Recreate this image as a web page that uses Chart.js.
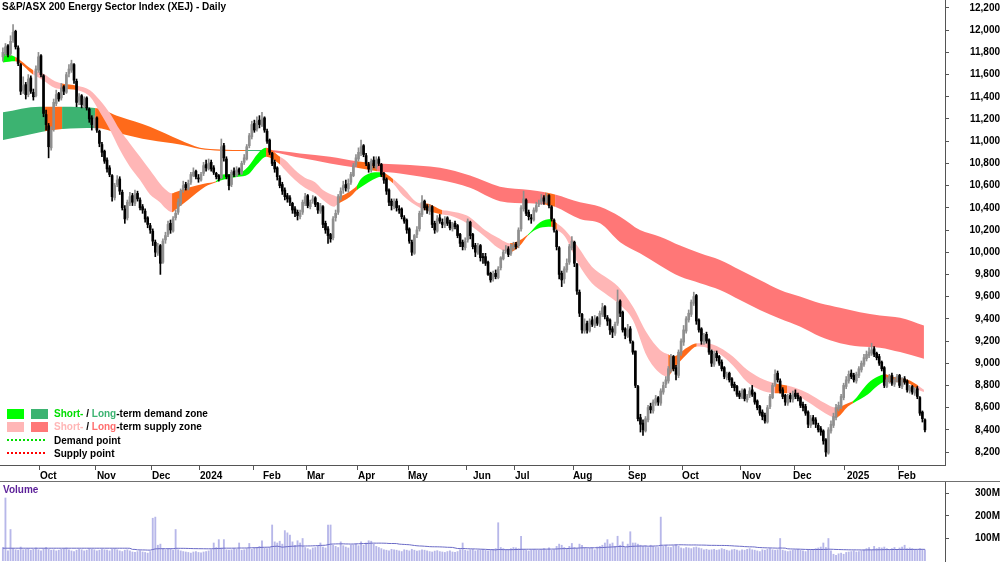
<!DOCTYPE html>
<html>
<head>
<meta charset="utf-8">
<script src="https://cdn.jsdelivr.net/npm/chart.js@4.4.1/dist/chart.umd.min.js"></script>
<style>
html, body { margin: 0; padding: 0; background: #fff; }
#wrap { position: relative; width: 1000px; height: 562px; overflow: hidden; font-family: "Liberation Sans", Arial, sans-serif; }
canvas { position: absolute; left: 0; }
#price { top: 0; }
#vol { top: 482px; }
#sep { position: absolute; left: 0; top: 481px; width: 1000px; height: 1px; background: #707070; }
#title { position: absolute; left: 2px; top: 1px; font-weight: bold; font-size: 10px; color: #000; }
#vlabel { position: absolute; left: 3px; top: 484px; font-weight: bold; font-size: 10px; color: #5b1f98; }
#legend { position: absolute; left: 7px; top: 407px; width: 220px; height: 56px; font-weight: bold; font-size: 10px; color: #000; }
.row { position: absolute; left: 0; height: 13px; width: 220px; white-space: nowrap; }
.box { position: absolute; top: 2px; width: 17px; height: 10px; }
.txt { position: absolute; left: 47px; top: 0; line-height: 13px; }
.dots { position: absolute; left: 0; top: 5px; width: 38px; height: 0; border-top: 2px dotted; }
</style>
</head>
<body>
<div id="wrap">
  <canvas id="price" width="1000" height="481"></canvas>
  <div id="sep"></div>
  <canvas id="vol" width="1000" height="80"></canvas>
  <div id="title">S&amp;P/ASX 200 Energy Sector Index (XEJ) - Daily</div>
  <div id="vlabel">Volume</div>
  <div id="legend">
    <div class="row" style="top:0">
      <span class="box" style="left:0;background:#00ff00"></span>
      <span class="box" style="left:24px;background:#3cb371"></span>
      <span class="txt"><span style="color:#00dd00">Short-</span> / <span style="color:#3cb371">Long</span>-term demand zone</span>
    </div>
    <div class="row" style="top:13px">
      <span class="box" style="left:0;background:#ffb6b6"></span>
      <span class="box" style="left:24px;background:#ff7777"></span>
      <span class="txt"><span style="color:#ffb6b6">Short-</span> / <span style="color:#ff6e6e">Long</span>-term supply zone</span>
    </div>
    <div class="row" style="top:27px">
      <span class="dots" style="border-color:#00dd00"></span>
      <span class="txt">Demand point</span>
    </div>
    <div class="row" style="top:40px">
      <span class="dots" style="border-color:#ff0000"></span>
      <span class="txt">Supply point</span>
    </div>
  </div>
</div>
<script>
// daily bars, 11 Sep 2023 .. 14 Feb 2025
const opens = [
  11760,11790,11860,11790,11910,11990,11840,11690,11460,11510,
  11420,11570,11440,11410,11640,11770,11590,11240,11140,10940,
  11110,11340,11430,11390,11490,11440,11610,11640,11690,11540,
  11360,11410,11320,11390,11290,11210,11140,11210,11090,10970,
  10910,10830,10760,10690,10490,10610,10660,10540,10390,10310,
  10440,10510,10440,10530,10470,10410,10370,10310,10240,10190,
  10090,9990,10060,9910,10110,10160,10260,10190,10310,10360,
  10440,10560,10610,10570,10630,10690,10730,10670,10650,10710,
  10790,10750,10810,10760,10710,10690,10670,10960,10840,10690,
  10610,10730,10690,10750,10710,10810,10840,10960,11040,11160,
  11110,11190,11140,11210,11090,11010,10890,10810,10760,10670,
  10610,10560,10510,10490,10440,10390,10360,10320,10360,10440,
  10510,10410,10460,10490,10440,10370,10410,10260,10210,10160,
  10130,10310,10360,10490,10560,10610,10570,10630,10690,10790,
  10840,10890,10960,10870,10790,10740,10830,10770,10840,10790,
  10710,10660,10560,10460,10410,10460,10390,10390,10310,10290,
  10210,10090,9990,10160,10210,10340,10460,10410,10370,10410,
  10260,10190,10310,10270,10240,10310,10270,10210,10260,10240,
  10160,10090,10040,10110,10270,10160,10060,9990,10060,9960,
  9960,9910,9810,9760,9810,9770,9860,9940,10010,10030,
  9990,10040,10070,10060,10210,10390,10470,10360,10310,10290,
  10370,10430,10450,10490,10450,10510,10410,10290,10190,10040,
  9810,9760,9840,9910,10040,10090,9890,9640,9440,9290,
  9360,9290,9390,9340,9410,9350,9440,9510,9410,9390,
  9310,9270,9360,9560,9460,9310,9240,9310,9190,9110,
  8790,8510,8460,8390,8490,8610,8570,8640,8690,8640,
  8740,8810,8840,8940,9060,8960,8890,9090,9190,9290,
  9390,9440,9540,9610,9390,9310,9190,9260,9210,9110,
  8990,9090,9060,9010,8960,8870,8910,8860,8810,8790,
  8730,8690,8760,8670,8710,8760,8730,8660,8610,8560,
  8530,8470,8610,8690,8810,8910,8840,8760,8710,8640,
  8710,8670,8730,8710,8690,8630,8610,8560,8440,8510,
  8490,8440,8410,8390,8310,8190,8390,8440,8510,8590,
  8610,8690,8790,8840,8910,8890,8840,8890,8940,8990,
  9040,9070,9090,9130,9090,9060,9010,8960,8790,8840,
  8890,8810,8840,8890,8790,8860,8840,8750,8790,8730,
  8770,8690,8560,8490
];
const highs = [
  11840,11880,11870,11950,12050,12000,11860,11700,11580,11530,
  11600,11590,11470,11680,11800,11780,11600,11280,11160,11130,
  11380,11460,11440,11520,11500,11620,11690,11730,11700,11560,
  11430,11420,11400,11400,11300,11230,11230,11220,11100,10990,
  10920,10850,10780,10700,10620,10690,10680,10560,10420,10470,
  10540,10530,10560,10550,10490,10430,10390,10320,10260,10210,
  10110,10080,10070,10120,10180,10280,10290,10320,10380,10480,
  10570,10640,10630,10650,10720,10760,10740,10700,10720,10810,
  10830,10840,10830,10780,10720,10700,11020,10980,10860,10700,
  10740,10760,10770,10760,10820,10880,10970,11070,11180,11190,
  11220,11230,11260,11220,11110,11020,10900,10830,10770,10690,
  10630,10580,10530,10510,10450,10410,10380,10380,10470,10530,
  10520,10470,10510,10500,10450,10440,10420,10280,10230,10170,
  10320,10380,10520,10580,10640,10650,10660,10720,10800,10880,
  10940,11010,10970,10890,10810,10840,10860,10860,10860,10800,
  10720,10670,10570,10480,10480,10480,10420,10400,10330,10300,
  10220,10110,10160,10230,10370,10510,10470,10430,10430,10420,
  10280,10330,10340,10300,10320,10320,10290,10270,10280,10250,
  10170,10110,10130,10300,10280,10170,10080,10080,10070,9990,
  9990,9920,9820,9830,9840,9870,9960,10020,10060,10050,
  10070,10090,10090,10220,10420,10550,10480,10380,10340,10400,
  10450,10470,10520,10510,10530,10520,10420,10300,10200,10050,
  9830,9870,9940,10070,10140,10100,9900,9660,9450,9400,
  9380,9400,9420,9430,9420,9470,9540,9520,9430,9400,
  9330,9370,9660,9570,9470,9320,9350,9330,9200,9110,
  8800,8540,8490,8520,8620,8640,8670,8710,8700,8770,
  8830,8880,8970,9080,9070,8980,9120,9220,9340,9420,
  9480,9570,9640,9620,9400,9320,9270,9280,9220,9120,
  9110,9110,9070,9030,8970,8920,8920,8870,8830,8800,
  8750,8770,8770,8720,8780,8800,8740,8670,8620,8580,
  8550,8620,8720,8820,8940,8930,8860,8780,8720,8720,
  8730,8750,8760,8730,8700,8650,8630,8570,8530,8530,
  8510,8460,8430,8400,8320,8420,8480,8550,8630,8650,
  8720,8820,8880,8930,8940,8910,8920,8970,9020,9080,
  9110,9140,9180,9150,9100,9080,9020,8970,8870,8900,
  8910,8870,8900,8900,8870,8880,8850,8800,8800,8780,
  8790,8700,8570,8500
];
const lows = [
  11720,11770,11760,11770,11890,11830,11680,11420,11430,11380,
  11400,11430,11370,11400,11620,11580,11220,11100,10850,10920,
  11090,11320,11360,11370,11420,11430,11580,11620,11520,11310,
  11330,11300,11300,11280,11170,11100,11120,11080,10950,10860,
  10800,10720,10680,10460,10470,10590,10520,10380,10260,10290,
  10420,10420,10420,10460,10380,10350,10270,10220,10170,10060,
  9960,9970,9800,9900,10080,10140,10170,10180,10290,10340,
  10420,10540,10560,10560,10610,10680,10660,10630,10640,10690,
  10730,10740,10730,10700,10660,10640,10660,10820,10660,10560,
  10590,10680,10680,10700,10700,10790,10830,10940,11020,11080,
  11090,11120,11130,11080,10980,10880,10780,10720,10650,10580,
  10520,10470,10450,10420,10350,10320,10290,10300,10340,10420,
  10400,10390,10440,10410,10350,10350,10220,10170,10080,10090,
  10110,10280,10340,10470,10530,10550,10540,10610,10680,10770,
  10820,10870,10860,10780,10720,10720,10760,10750,10780,10680,
  10620,10520,10420,10380,10390,10370,10350,10300,10260,10170,
  10080,9970,9980,10130,10190,10320,10380,10350,10340,10220,
  10170,10180,10260,10220,10220,10240,10200,10190,10210,10130,
  10050,10020,10020,10090,10120,10030,9960,9980,9920,9900,
  9880,9790,9730,9740,9760,9760,9840,9930,9990,9960,
  9970,10020,10030,10040,10190,10370,10330,10290,10260,10280,
  10360,10410,10430,10430,10440,10400,10280,10180,10020,9760,
  9690,9720,9820,9890,10020,9870,9620,9420,9270,9270,
  9270,9280,9330,9320,9340,9330,9420,9400,9340,9260,
  9230,9250,9340,9420,9280,9220,9230,9180,9080,8780,
  8480,8380,8350,8380,8470,8550,8550,8620,8620,8620,
  8720,8780,8820,8920,8930,8850,8870,9070,9160,9270,
  9370,9420,9520,9350,9280,9170,9170,9180,9080,8970,
  8970,9020,8980,8930,8860,8850,8830,8780,8750,8700,
  8680,8680,8660,8650,8690,8700,8630,8580,8530,8490,
  8460,8460,8590,8680,8790,8830,8730,8680,8620,8620,
  8650,8650,8680,8660,8600,8570,8530,8420,8420,8450,
  8420,8380,8350,8270,8160,8180,8370,8420,8490,8570,
  8590,8670,8770,8820,8860,8830,8820,8870,8920,8970,
  9020,9050,9070,9060,9030,8980,8930,8780,8780,8820,
  8800,8790,8830,8780,8770,8810,8740,8730,8720,8710,
  8680,8530,8470,8380
];
const closes = [
  11800,11850,11780,11900,11980,11850,11700,11450,11500,11420,
  11560,11450,11400,11650,11760,11600,11250,11150,10950,11100,
  11350,11420,11380,11480,11450,11600,11650,11700,11550,11350,
  11400,11330,11380,11300,11200,11150,11200,11100,10980,10900,
  10820,10750,10700,10500,10600,10650,10550,10400,10300,10450,
  10500,10450,10520,10480,10400,10380,10300,10250,10200,10100,
  10000,10050,9900,10100,10150,10250,10200,10300,10350,10450,
  10550,10600,10580,10620,10700,10720,10680,10660,10700,10780,
  10760,10800,10750,10720,10680,10660,10950,10850,10680,10600,
  10720,10700,10740,10720,10800,10850,10950,11050,11150,11100,
  11180,11150,11200,11100,11000,10900,10800,10750,10680,10600,
  10550,10500,10480,10450,10380,10350,10330,10350,10450,10500,
  10420,10450,10480,10430,10380,10420,10250,10200,10150,10120,
  10300,10350,10500,10550,10600,10580,10620,10700,10780,10850,
  10900,10950,10880,10800,10750,10820,10780,10830,10800,10700,
  10650,10550,10450,10420,10450,10400,10380,10320,10280,10200,
  10100,10000,10150,10200,10350,10450,10400,10380,10400,10250,
  10200,10300,10280,10250,10300,10260,10220,10250,10230,10150,
  10080,10050,10100,10280,10150,10050,10000,10050,9950,9950,
  9900,9800,9750,9800,9780,9850,9950,10000,10020,9980,
  10050,10060,10050,10200,10400,10480,10350,10320,10300,10380,
  10420,10440,10480,10460,10500,10420,10300,10200,10050,9800,
  9750,9850,9900,10050,10100,9900,9650,9450,9300,9350,
  9300,9380,9350,9400,9360,9450,9500,9420,9380,9300,
  9280,9350,9550,9450,9300,9250,9300,9200,9100,8800,
  8500,8450,8400,8500,8600,8580,8650,8680,8650,8750,
  8800,8850,8950,9050,8950,8900,9100,9200,9300,9400,
  9450,9550,9600,9380,9300,9200,9250,9200,9100,9000,
  9080,9050,9000,8950,8880,8900,8850,8800,8780,8720,
  8700,8750,8680,8700,8750,8720,8650,8600,8550,8520,
  8480,8600,8700,8800,8900,8850,8750,8700,8650,8700,
  8680,8720,8700,8680,8620,8600,8550,8450,8500,8480,
  8450,8400,8380,8300,8200,8400,8450,8520,8600,8620,
  8700,8800,8850,8900,8880,8850,8900,8950,9000,9050,
  9080,9100,9120,9080,9050,9000,8950,8800,8850,8880,
  8820,8850,8880,8800,8850,8830,8760,8780,8740,8760,
  8700,8550,8500,8400
];
// volume in millions
const volumes = [
  60,280,45,140,55,50,48,62,50,52, 55,48,52,58,50,45,55,60,52,48,
  50,45,48,52,55,58,50,45,42,48, 52,50,45,48,55,52,50,45,48,52,
  50,48,45,52,55,50,45,42,48,50, 45,40,38,42,45,40,38,35,42,190,
  195,70,75,55,50,52,55,48,140,50, 45,42,40,38,35,40,42,38,36,40,
  42,45,50,80,60,95,58,95,50,48, 50,55,52,80,48,50,55,78,52,60,
  60,65,90,58,55,60,160,85,80,88, 75,135,125,115,85,70,90,80,100,60,
  55,50,58,60,65,80,62,58,160,160, 70,65,60,85,68,62,58,70,72,75,
  68,85,70,80,90,88,75,65,60,55, 50,48,45,52,50,48,45,42,50,48,
  45,52,48,44,46,50,48,45,42,40, 44,46,42,40,38,42,45,40,38,42,
  50,80,48,45,50,52,45,48,50,52, 48,45,50,52,55,170,60,55,50,52,
  55,60,58,55,110,52,48,45,50,52, 50,48,52,55,50,58,48,50,65,75,
  70,60,55,65,78,60,55,75,70,60, 55,58,60,50,62,65,70,80,95,75,
  80,65,110,70,85,60,75,130,80,80, 75,70,65,68,60,70,65,62,60,195,
  65,70,62,60,68,72,65,58,55,60, 58,55,60,62,58,55,50,52,48,50,
  52,48,50,55,52,48,45,50,52,48, 45,50,48,52,55,50,48,45,42,50,
  48,52,55,50,48,50,100,48,45,42, 45,48,50,52,48,45,42,48,50,52,
  55,58,62,80,60,100,45,30,25,32, 35,30,38,40,42,45,40,42,45,48,
  55,60,50,65,55,60,58,62,55,50, 55,60,52,58,62,70,55,58,55,52,
  50,55,52,50
];

// short-term zone (bar index, upper edge, lower edge, state of the stretch that follows)
const stIdx = [0,4.8,11.9,15.8,20.5,23.3,29.2,34.3,38.2,42.2,46.1,50,54,57.9,61.8,63.8,66.6,67.8,72.9,79.6,
  83.9,86.3,92.6,96.5,100.4,103.6,109.1,111.1,115,118.9,122.9,126,130.4,131.6,136.7,139.4,140.6,147.3,148.9,153.6,
  157.5,164.2,166.2,172.9,176,182.7,189.8,194.9,199.6,203.6,206.7,211.5,215.8,218.1,221.3,226.4,231.9,237,242.2,248,
  253.6,258.7,261.9,263.8,269.3,273.2,277.2,282.3,287.4,293,298,304,308.7,311.9,317,323.7,328,332.7,334.7,340.6,
  344.5,347.3,350,356.3,360.3,362.6];
const stTop = [11790,11760,11640,11610,11540,11520,11500,11460,11370,11250,11100,10980,10860,10740,10620,10570,10530,10540,10580,10620,
  10640,10700,10710,10770,10890,10940,10860,10830,10740,10670,10630,10560,10510,10500,10550,10600,10650,10720,10720,10660,
  10580,10440,10440,10380,10370,10330,10200,10130,10080,10110,10160,10270,10300,10260,10200,10050,9870,9780,9690,9510,
  9270,9120,9080,9060,9140,9180,9180,9140,9060,8940,8870,8820,8800,8780,8730,8640,8600,8640,8660,8820,
  8880,8900,8880,8850,8800,8760];
const stBot = [11710,11720,11600,11550,11480,11470,11460,11400,11260,11100,10920,10770,10650,10520,10450,10400,10360,10380,10470,10590,
  10630,10650,10680,10700,10800,10860,10790,10740,10650,10580,10530,10470,10410,10430,10500,10560,10580,10670,10680,10620,
  10510,10400,10380,10340,10330,10260,10140,10040,10000,10060,10150,10220,10230,10200,10140,9900,9720,9630,9540,9390,
  9060,8910,8880,8940,9080,9150,9140,9080,8980,8830,8760,8730,8730,8720,8650,8550,8510,8610,8640,8720,
  8800,8830,8830,8820,8760,8740];
const stZone = ['D','N','S','S','S','N','S','S','S','S','S','S','S','S','S','S','N','N','N','N',
  'D','D','D','D','D','N','S','S','S','S','S','S','S','N','N','D','D','D','N','S',
  'S','S','N','S','S','S','S','S','N','N','D','D','N','S','S','S','S','S','S','S',
  'S','S','N','N','N','S','S','S','S','S','S','N','S','S','S','S','N','N','D','D',
  'D','N','N','N','S','S'];

// long-term zone
const ltIdx = [0,14.6,16.6,23.3,36.3,46.1,57.9,69.7,77.6,85.5,95.3,103.2,117,128.8,139.4,147.3,156.3,172.1,183.9,195.7,
  207.5,213.4,217.4,227.2,235.1,243,250.8,258.7,266.6,274.5,282.3,290.2,298,306,313.8,321.7,329.6,337.4,345.3,353.2,362.6];
const ltTop = [11260,11310,11310,11310,11300,11220,11130,11010,10940,10925,10920,10920,10890,10860,10820,10800,10790,10760,10690,10590,
  10560,10540,10520,10450,10410,10320,10200,10140,10060,9990,9930,9840,9750,9660,9600,9540,9500,9460,9430,9410,9340];
const ltBot = [11010,11080,11090,11110,11120,11070,11010,10970,10930,10915,10912,10910,10850,10800,10760,10730,10710,10650,10580,10460,
  10440,10430,10410,10300,10260,10090,9990,9880,9780,9720,9660,9570,9480,9400,9330,9240,9180,9150,9140,9100,9040];
const ltZone = ['D','D','N','D','N','N','N','N','N','N','D','S','S','S','N','S','S','S','S','S',
  'S','N','S','S','S','S','S','S','S','S','S','S','S','S','S','S','S','S','S','S','S'];

// month boundaries (tick marks) and where each month name starts (bar index)
const monthStarts = [15,37,59,78,99,120,140,160,183,202,225,247,268,291,312,332,353];
const labelAt = [14.6,37,58.7,77.6,102.4,119.7,139.8,159.5,185.1,201.6,224.4,246.1,267.4,291,311.1,332.3,352.4];
const monthLabels = ['Oct','Nov','Dec','2024','Feb','Mar','Apr','May','Jun','Jul','Aug','Sep','Oct','Nov','Dec','2025','Feb'];
const priceTicks = [8200,8400,8600,8800,9000,9200,9400,9600,9800,10000,10200,10400,10600,10800,11000,11200,11400,11600,11800,12000,12200];
const volTicks = [100,200,300];

const ST_COL = { D: '#00ff00', S: '#ffb6b6', N: '#ff6a1a' };
const LT_COL = { D: '#3cb371', S: '#ff7777', N: '#ff6a1a' };
const FONT = { family: '"Liberation Sans", Arial, sans-serif', size: 10, weight: 'bold' };
const X_MIN = -1.14, X_MAX = 370.9;

const idx = closes.map((c, i) => i);
const isUp = i => closes[i] >= opens[i];
const pts = (xs, ys) => xs.map((x, k) => ({ x: x, y: ys[k] }));

function band(xs, ys, fill, zone, col, order) {
  const ds = {
    type: 'line', data: pts(xs, ys), borderColor: 'rgba(0,0,0,0)', borderWidth: 0,
    pointRadius: 0, cubicInterpolationMode: 'monotone', order: order, fill: false
  };
  if (fill) {
    ds.fill = '-1';
    ds.backgroundColor = col.S;
    ds.segment = { backgroundColor: c => col[zone[c.p0DataIndex]] };
  }
  return ds;
}

function fixY(w) {
  return s => { s.width = w; s.paddingTop = 0; s.paddingBottom = 0; };
}

// x ticks: boundary marks without text, then label positions without marks
const xTicks = monthStarts.map(b => ({ value: b - 0.5, mark: true, text: '' }))
  .concat(labelAt.map((v, k) => ({ value: v, mark: false, text: monthLabels[k] })));

Chart.defaults.font.family = FONT.family;

new Chart(document.getElementById('price'), {
  data: {
    datasets: [
      { type: 'bar', data: idx.map(i => ({ x: i, y: [opens[i], closes[i]] })), grouped: false, barThickness: 2,
        backgroundColor: c => isUp(c.dataIndex) ? '#8f8f8f' : '#000000', order: 0 },
      { type: 'bar', data: idx.map(i => ({ x: i, y: [lows[i], highs[i]] })), grouped: false, barThickness: 1,
        backgroundColor: c => isUp(c.dataIndex) ? '#8f8f8f' : '#000000', order: 1 },
      band(stIdx, stBot, false, stZone, ST_COL, 2),
      band(stIdx, stTop, true, stZone, ST_COL, 2),
      band(ltIdx, ltBot, false, ltZone, LT_COL, 3),
      band(ltIdx, ltTop, true, ltZone, LT_COL, 3)
    ]
  },
  options: {
    responsive: false, animation: false, devicePixelRatio: 1, events: [],
    layout: { padding: 0 },
    plugins: { legend: { display: false }, tooltip: { enabled: false } },
    scales: {
      x: {
        type: 'linear', min: X_MIN, max: X_MAX, offset: false,
        afterBuildTicks: s => { s.ticks = xTicks.map(t => ({ value: t.value })); },
        afterFit: s => { s.height = 16; s.paddingLeft = 0; s.paddingRight = 0; },
        ticks: { callback: (v, k) => xTicks[k].text, autoSkip: false, maxRotation: 0, align: 'start', padding: 0, font: FONT, color: '#000' },
        grid: { drawOnChartArea: false, offset: false, tickLength: 5,
          color: c => (c.index !== undefined && xTicks[c.index] && xTicks[c.index].mark) ? '#555' : 'rgba(0,0,0,0)' },
        border: { color: '#555' }
      },
      y: {
        position: 'right', min: 8083, max: 12272,
        afterBuildTicks: s => { s.ticks = priceTicks.map(v => ({ value: v })); },
        afterFit: fixY(55),
        ticks: { callback: v => v.toLocaleString('en-US'), autoSkip: false, crossAlign: 'far', padding: 17, font: FONT, color: '#000' },
        grid: { drawOnChartArea: false, tickLength: 4, color: '#555' },
        border: { color: '#555' }
      }
    }
  }
});

// 50-day average of volume (first bars use the first full window)
const volAvg = volumes.map((v, i) => {
  const s = Math.max(0, i - 49);
  const w = volumes.slice(s, s + 50);
  return w.reduce((a, b) => a + b, 0) / w.length;
});

new Chart(document.getElementById('vol'), {
  data: {
    datasets: [
      { type: 'line', data: idx.map(i => ({ x: i, y: volAvg[i] })), borderColor: '#6a6ac6', borderWidth: 1, pointRadius: 0, order: 0 },
      { type: 'bar', data: idx.map(i => ({ x: i, y: volumes[i] })), grouped: false, barThickness: 1.2,
        backgroundColor: 'rgba(135,135,218,0.6)', order: 1 }
    ]
  },
  options: {
    responsive: false, animation: false, devicePixelRatio: 1, events: [],
    layout: { padding: { bottom: 1 } },
    plugins: { legend: { display: false }, tooltip: { enabled: false } },
    scales: {
      x: { type: 'linear', min: X_MIN, max: X_MAX, offset: false, display: false },
      y: {
        position: 'right', min: 0, max: 351,
        afterBuildTicks: s => { s.ticks = volTicks.map(v => ({ value: v })); },
        afterFit: fixY(55),
        ticks: { callback: v => v + 'M', autoSkip: false, crossAlign: 'far', padding: 23, font: FONT, color: '#000' },
        grid: { drawOnChartArea: false, tickLength: 4, color: '#555' },
        border: { color: '#555' }
      }
    }
  }
});
</script>
</body>
</html>
